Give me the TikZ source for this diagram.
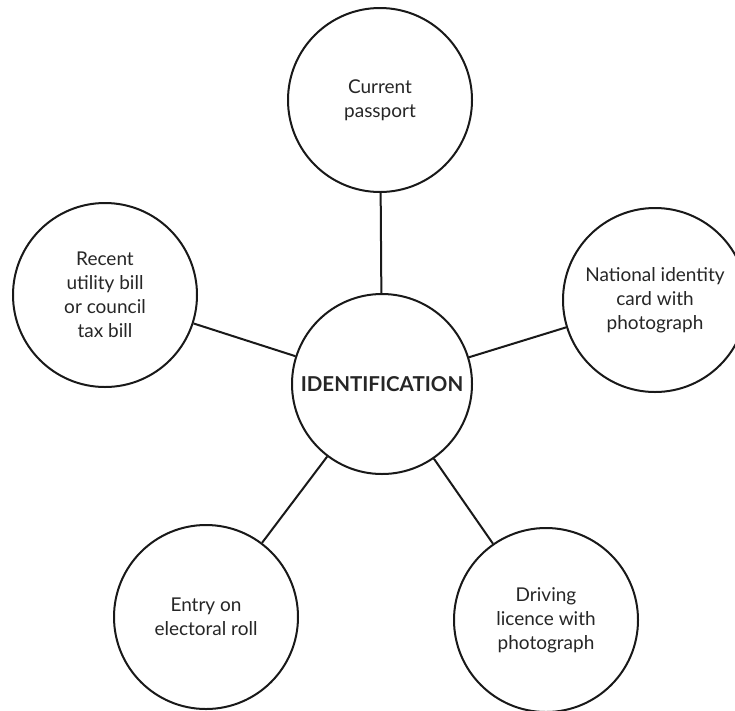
\documentclass[tikz,border=0pt]{standalone}
\usepackage{fontspec}
\setmainfont{Lato}
\begin{document}
\begin{tikzpicture}[x=1pt,y=-1pt,
  bubble/.style={circle,draw=black!90,line width=2pt,minimum size=184pt,inner sep=0pt,
    align=center,font=\fontsize{19}{24}\selectfont,text=black!85},
  hub/.style={bubble,minimum size=180pt,font=\fontsize{20.5}{24}\selectfont\bfseries},
  link/.style={draw=black!90,line width=2pt}]
\clip (0,0) rectangle (735,710);
\fill[white] (0,0) rectangle (735,710);
\node[hub] (c) at (382,384) {IDENTIFICATION};
\node[bubble] (top) at (380,100) {Current\\passport};
\node[bubble] (left) at (105,295) {Recent\\utility bill\\or council\\tax bill};
\node[bubble] (right) at (655,300) {National identity\\card with\\photograph};
\node[bubble] (bl) at (206,617) {Entry on\\electoral roll};
\node[bubble] (br) at (546,620) {Driving\\licence with\\photograph};
\draw[link] (c) -- (top);
\draw[link] (c) -- (left);
\draw[link] (c) -- (right);
\draw[link] (c) -- (bl);
\draw[link] (c) -- (br);
\end{tikzpicture}
\end{document}
